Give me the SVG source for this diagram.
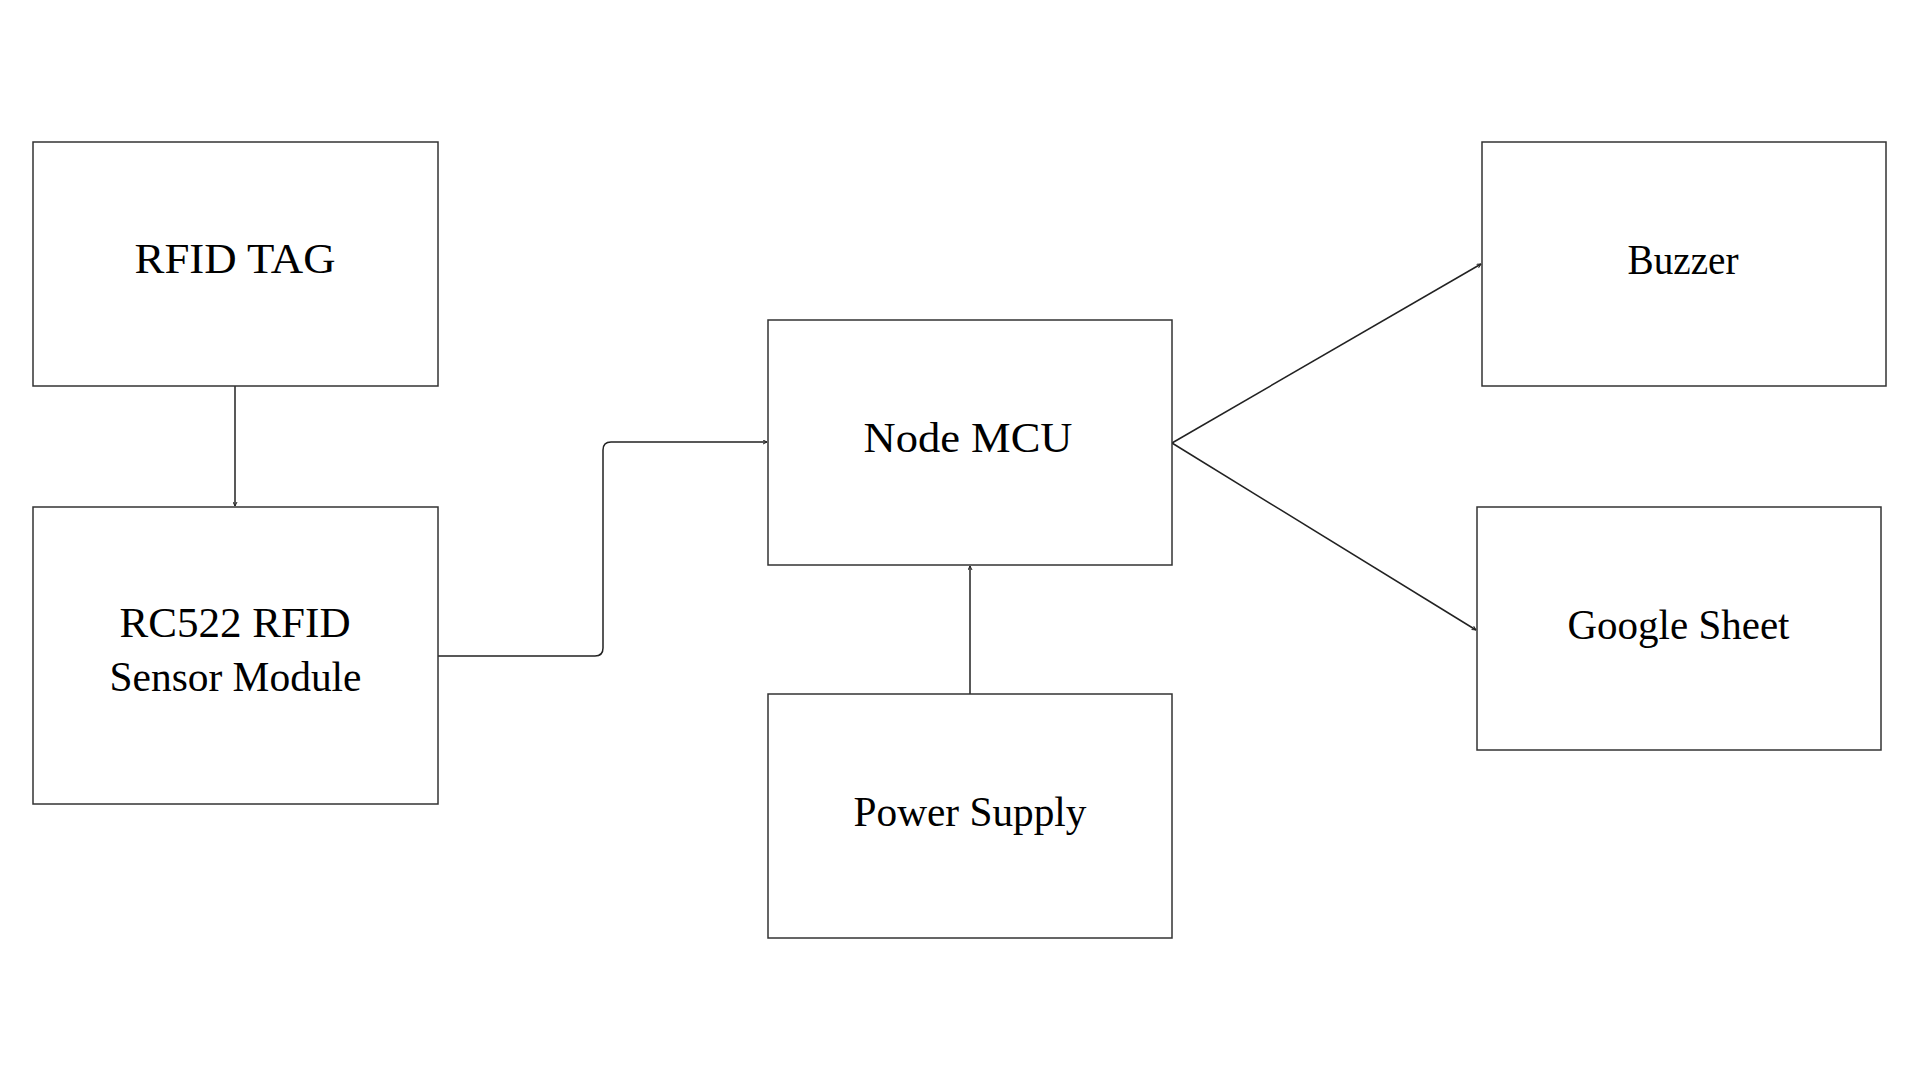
<svg xmlns="http://www.w3.org/2000/svg" width="1920" height="1080" viewBox="0 0 1920 1080">
<style>
.box{fill:#fff;stroke:#333;stroke-width:1.5}
.lbl{font-family:"Liberation Serif","Times New Roman",serif;font-size:42px;fill:#000;text-anchor:middle}
.con{fill:none;stroke:#222;stroke-width:1.5}
</style>
<defs>
<marker id="ah" viewBox="0 0 10 10" refX="9" refY="5" markerWidth="5" markerHeight="5" orient="auto" markerUnits="userSpaceOnUse">
<path d="M1,1 L9,5 L1,9" fill="none" stroke="#222" stroke-width="2"/>
</marker>
</defs>
<rect width="1920" height="1080" fill="#fff"/>
<g id="connectors">
<line class="con" x1="235" y1="386" x2="235" y2="506" marker-end="url(#ah)"/>
<path class="con" d="M438,656 H595 Q603,656 603,648 V450 Q603,442 611,442 H767" marker-end="url(#ah)"/>
<line class="con" x1="970" y1="694" x2="970" y2="566" marker-end="url(#ah)"/>
<line class="con" x1="1172" y1="443" x2="1481" y2="264" marker-end="url(#ah)"/>
<line class="con" x1="1172" y1="443" x2="1476" y2="630" marker-end="url(#ah)"/>
</g>
<g id="rfid-tag">
<rect class="box" x="33" y="142" width="405" height="244"/>
<text class="lbl" x="235" y="273" textLength="201" lengthAdjust="spacingAndGlyphs">RFID TAG</text>
</g>
<g id="rc522">
<rect class="box" x="33" y="507" width="405" height="297"/>
<text class="lbl" x="235" y="637" textLength="231" lengthAdjust="spacingAndGlyphs">RC522 RFID</text>
<text class="lbl" x="235.5" y="691" textLength="252" lengthAdjust="spacingAndGlyphs">Sensor Module</text>
</g>
<g id="node-mcu">
<rect class="box" x="768" y="320" width="404" height="245"/>
<text class="lbl" x="968" y="452" textLength="209" lengthAdjust="spacingAndGlyphs">Node MCU</text>
</g>
<g id="power-supply">
<rect class="box" x="768" y="694" width="404" height="244"/>
<text class="lbl" x="970" y="826" textLength="233" lengthAdjust="spacingAndGlyphs">Power Supply</text>
</g>
<g id="buzzer">
<rect class="box" x="1482" y="142" width="404" height="244"/>
<text class="lbl" x="1683" y="274" textLength="111" lengthAdjust="spacingAndGlyphs">Buzzer</text>
</g>
<g id="google-sheet">
<rect class="box" x="1477" y="507" width="404" height="243"/>
<text class="lbl" x="1678.5" y="639" textLength="222" lengthAdjust="spacingAndGlyphs">Google Sheet</text>
</g>
</svg>
